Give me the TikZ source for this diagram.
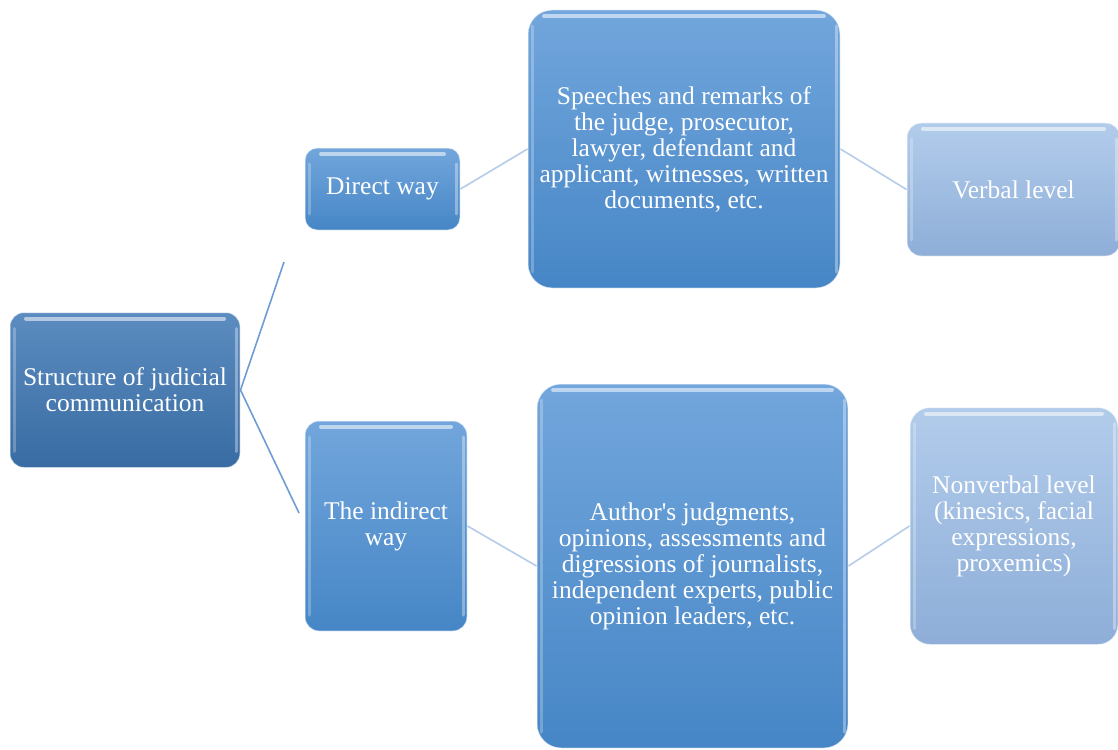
\documentclass[tikz,border=0pt]{standalone}
\usepackage{fontspec}
\setmainfont{Liberation Serif}
\definecolor{lineA}{HTML}{6E9CD4}
\definecolor{lineB}{HTML}{B4CCE8}
\tikzset{
  box/.style={rectangle, rounded corners=#1, align=center, text=white,
    font=\fontsize{25.5}{26}\selectfont, inner sep=2pt,
    draw=white, draw opacity=0.55, line width=1pt,
    path picture={
      \draw[white, opacity=0.55, line width=4pt, line cap=round]
        ([xshift=16pt,yshift=-6pt]path picture bounding box.north west) --
        ([xshift=-16pt,yshift=-6pt]path picture bounding box.north east);
      \draw[white, opacity=0.35, line width=3pt, line cap=round]
        ([xshift=-4pt,yshift=-16pt]path picture bounding box.north east) --
        ([xshift=-4pt,yshift=16pt]path picture bounding box.south east);
      \draw[white, opacity=0.25, line width=3pt, line cap=round]
        ([xshift=4pt,yshift=-16pt]path picture bounding box.north west) --
        ([xshift=4pt,yshift=16pt]path picture bounding box.south west);
    }},
  dark/.style={box=#1, top color={rgb,255:red,92;green,140;blue,192}, bottom color={rgb,255:red,56;green,108;blue,162}},
  mid/.style={box=#1, top color={rgb,255:red,114;green,166;blue,220}, bottom color={rgb,255:red,70;green,134;blue,198}},
  light/.style={box=#1, top color={rgb,255:red,178;green,204;blue,235}, bottom color={rgb,255:red,142;green,174;blue,216}},
  linkA/.style={draw=lineA, line width=1.6pt},
  linkB/.style={draw=lineB, line width=1.6pt},
}
\begin{document}
\begin{tikzpicture}[x=1pt,y=-1pt]
\useasboundingbox (0,0) rectangle (1118,749);
\node[dark=14pt, minimum width=230pt, minimum height=155pt] (root) at (125,390) {Structure of judicial\\communication};
\node[mid=12pt, minimum width=155pt, minimum height=82pt] (direct) at (382.5,189) {Direct way};
\node[mid=14pt, minimum width=162pt, minimum height=210pt] (indirect) at (386,526) {The indirect\\way};
\node[mid=24pt, minimum width=312pt, minimum height=278pt] (speech) at (684,149) {Speeches and remarks of\\the judge, prosecutor,\\lawyer, defendant and\\applicant, witnesses, written\\documents, etc.};
\node[mid=24pt, minimum width=311pt, minimum height=364pt] (author) at (692.5,566) {Author\textquotesingle s judgments,\\opinions, assessments and\\digressions of journalists,\\independent experts, public\\opinion leaders, etc.};
\node[light=14pt, minimum width=213pt, minimum height=133pt] (verbal) at (1013.5,189.5) {Verbal level};
\node[light=20pt, minimum width=208pt, minimum height=237pt] (nonverbal) at (1014,526) {Nonverbal level\\(kinesics, facial\\expressions,\\proxemics)};
\coordinate (up) at (284,262);
\coordinate (down) at (299,513);
\draw[linkA] (root.east) -- (up);
\draw[linkA] (root.east) -- (down);
\draw[linkB] (direct.east) -- (speech.west);
\draw[linkB] (indirect.east) -- (author.west);
\draw[linkB] (speech.east) -- (verbal.west);
\draw[linkB] (author.east) -- (nonverbal.west);
\end{tikzpicture}
\end{document}
